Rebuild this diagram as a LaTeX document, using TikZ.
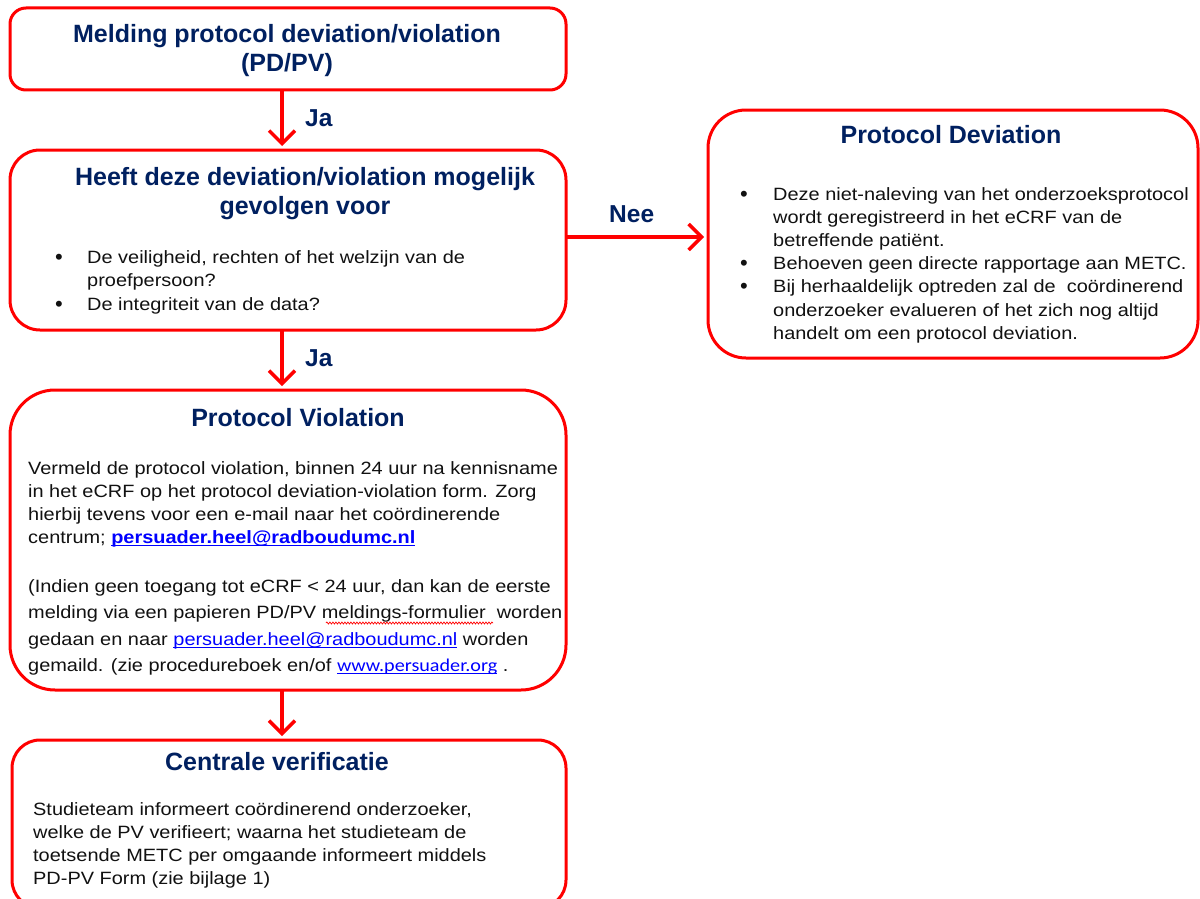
\documentclass[tikz,border=0pt]{standalone}
\usepackage{fontspec}
\setmainfont{Liberation Sans}
\newfontfamily\bodyf[FakeStretch=1.12]{Liberation Sans}
\newfontfamily\calib[FakeStretch=1.12]{Carlito}
\usetikzlibrary{arrows.meta,decorations.pathmorphing}
\definecolor{pvred}{HTML}{FF0000}
\definecolor{pvnavy}{HTML}{002060}
\definecolor{pvlink}{HTML}{0000FF}
\definecolor{pvtext}{HTML}{111111}
\newcommand\lnkul[1]{{\setbox0\hbox{#1}\rlap{\rule[-3pt]{\wd0}{1.3pt}}\box0}}
\tikzset{
  box/.style={draw=pvred, line width=3pt, rectangle, inner sep=0pt, outer sep=0pt},
  ttl/.style={font=\fontsize{25}{30}\selectfont\bfseries, text=pvnavy, inner sep=0pt, anchor=base},
  lbl/.style={font=\fontsize{24.5}{30}\selectfont\bfseries, text=pvnavy, inner sep=0pt, anchor=base west},
  txt/.style={font=\bodyf\fontsize{17.8}{23}\selectfont, text=pvtext, inner sep=0pt, anchor=base west},
  bul/.style={font=\fontsize{22}{23}\selectfont, text=pvtext, inner sep=0pt, anchor=base},
  flow/.style={draw=pvred, line width=3.5pt, -{Straight Barb[length=13pt,width=26pt]}, shorten >=4pt},
}
\begin{document}
\begin{tikzpicture}[x=1pt,y=-1pt]
\useasboundingbox (0,0) rectangle (1200,899);
\fill[white] (0,0) rectangle (1200,899);
% boxes
\node[box, rounded corners=16pt, minimum width=556pt, minimum height=82pt] (b1) at (288,49) {};
\node[box, rounded corners=30pt, minimum width=556pt, minimum height=180pt] (b2) at (288,240) {};
\node[box, rounded corners=38pt, minimum width=490pt, minimum height=248pt] (b3) at (953,234) {};
\node[box, rounded corners=45pt, minimum width=556pt, minimum height=300pt] (b4) at (288,540) {};
\node[box, rounded corners=28pt, minimum width=554pt, minimum height=168pt] (b5) at (289,824) {};
\coordinate (colx) at (282,0);
\coordinate (neey) at (0,237);
% connectors
\draw[flow] (b1.south -| colx) -- (b2.north -| colx);
\draw[flow] (b2.south -| colx) -- (b4.north -| colx);
\draw[flow] (b4.south -| colx) -- (b5.north -| colx);
\draw[flow] (b2.east |- neey) -- (b3.west |- neey);
\node[lbl] (ja1) at (305,126) {Ja};
\node[lbl] (ja2) at (305,366) {Ja};
\node[lbl] (nee) at (609,222) {Nee};
% box 1
\node[ttl] (t1a) at (287,43) {Melding protocol deviation/violation};
\node[ttl] (t1b) at (287,71) {(PD/PV)};
% box 2
\node[ttl] (t2a) at (305,185) {Heeft deze deviation/violation mogelijk};
\node[ttl] (t2b) at (305,214) {gevolgen voor};
\node[bul] (u2a) at (59,264) {•};
\node[txt] (l2a) at (87,263) {De veiligheid, rechten of het welzijn van de};
\node[txt] (l2b) at (87,286) {proefpersoon?};
\node[bul] (u2b) at (59,311) {•};
\node[txt] (l2c) at (87,310) {De integriteit van de data?};
% box 3
\node[ttl] (t3) at (951,143) {Protocol Deviation};
\node[bul] (u3a) at (744,201) {•};
\node[txt] (l3a) at (773,200) {Deze niet-naleving van het onderzoeksprotocol};
\node[txt] (l3b) at (773,223) {wordt geregistreerd in het eCRF van de};
\node[txt] (l3c) at (773,246) {betreffende patiënt.};
\node[bul] (u3b) at (744,270) {•};
\node[txt] (l3d) at (773,269) {Behoeven geen directe rapportage aan METC.};
\node[bul] (u3c) at (744,293) {•};
\node[txt] (l3e) at (773,292) {Bij herhaaldelijk optreden zal de\ \ coördinerend};
\node[txt] (l3f) at (773,316) {onderzoeker evalueren of het zich nog altijd};
\node[txt] (l3g) at (773,339) {handelt om een protocol deviation.};
% box 4
\node[ttl] (t4) at (298,426) {Protocol Violation};
\node[txt] (l4a) at (28,474) {Vermeld de protocol violation, binnen 24 uur na kennisname};
\node[txt] (l4b) at (28,497) {in het eCRF op het protocol deviation-violation form. Zorg};
\node[txt] (l4c) at (28,520) {hierbij tevens voor een e-mail naar het coördinerende};
\node[txt] (l4d) at (28,543) {centrum; \textcolor{pvlink}{\bfseries\lnkul{persuader.heel@radboudumc.nl}}};
\node[txt] (l4e) at (28,592) {(Indien geen toegang tot eCRF < 24 uur, dan kan de eerste};
\node[txt] (l4f) at (28,618) {melding via een papieren PD/PV meldings-formulier\ \ worden};
\node[txt] (l4g) at (28,645) {gedaan en naar \textcolor{pvlink}{\lnkul{persuader.heel@radboudumc.nl}} worden};
\node[txt] (l4h) at (28,671) {gemaild. (zie procedureboek en/of \textcolor{pvlink}{\calib\fontsize{18}{23}\selectfont\lnkul{www.persuader.org}} .};
\draw[pvred, line width=0.7pt, decorate, decoration={snake, amplitude=1pt, segment length=3pt}] (326,623) -- (493,623);
% box 5
\node[ttl] (t5) at (277,770) {Centrale verificatie};
\node[txt] (l5a) at (33,815) {Studieteam informeert coördinerend onderzoeker,};
\node[txt] (l5b) at (33,838) {welke de PV verifieert; waarna het studieteam de};
\node[txt] (l5c) at (33,861) {toetsende METC per omgaande informeert middels};
\node[txt] (l5d) at (33,884) {PD-PV Form (zie bijlage 1)};
\end{tikzpicture}
\end{document}
